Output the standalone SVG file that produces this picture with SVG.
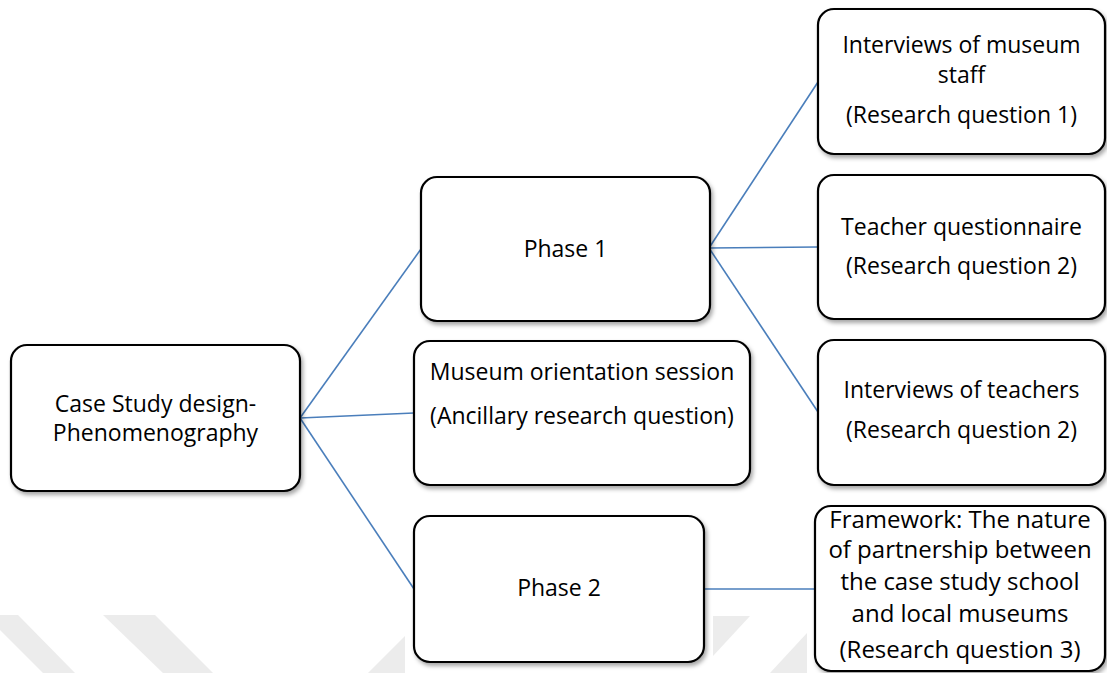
<svg xmlns="http://www.w3.org/2000/svg" width="1107" height="673" viewBox="0 0 1107 673">
  <defs>
    <filter id="sh" x="-10%" y="-10%" width="130%" height="130%">
      <feDropShadow dx="2" dy="3" stdDeviation="2" flood-color="#000" flood-opacity="0.35"/>
    </filter>
    <style>
      .box { fill: #fff; stroke: #000; stroke-width: 2.2; filter: url(#sh); }
      .lbl { font-family: "Open Sans", "Noto Sans", "Liberation Sans", sans-serif; font-size: 23px; fill: #000; text-anchor: middle; }
      .big { font-size: 24px; }
      .con { stroke: #4a7ebb; stroke-width: 1.6; fill: none; }
      .wm { fill: #ececec; }
    </style>
  </defs>
  <rect width="1107" height="673" fill="#fff"/>
  <g id="watermark">
    <polygon class="wm" points="0,615 18,615 75,673 43,673 0,630"/>
    <polygon class="wm" points="103,615 155,615 213,673 163,673"/>
    <polygon class="wm" points="368,673 405,636 405,673"/>
    <polygon class="wm" points="713,616 750,616 713,656"/>
    <polygon class="wm" points="770,673 807,633 807,673"/>
  </g>
  <g id="connectors">
    <line class="con" x1="300" y1="418" x2="421" y2="249"/>
    <line class="con" x1="300" y1="418" x2="414" y2="413"/>
    <line class="con" x1="300" y1="418" x2="414" y2="589"/>
    <line class="con" x1="709" y1="248" x2="818" y2="82"/>
    <line class="con" x1="709" y1="248" x2="818" y2="247"/>
    <line class="con" x1="709" y1="248" x2="818" y2="412"/>
    <line class="con" x1="704" y1="589" x2="815" y2="589"/>
  </g>
  <g id="case-study">
    <rect class="box" x="11" y="345" width="289" height="146" rx="16"/>
    <text class="lbl" x="155.5" y="412">Case Study design-</text>
    <text class="lbl" x="155.5" y="441">Phenomenography</text>
  </g>
  <g id="phase1">
    <rect class="box" x="421" y="177" width="289" height="144" rx="16"/>
    <text class="lbl" x="565.5" y="257">Phase 1</text>
  </g>
  <g id="orientation">
    <rect class="box" x="414" y="341" width="336" height="144" rx="16"/>
    <text class="lbl" x="582" y="380">Museum orientation session</text>
    <text class="lbl" x="582" y="424">(Ancillary research question)</text>
  </g>
  <g id="phase2">
    <rect class="box" x="414" y="516" width="290" height="146" rx="16"/>
    <text class="lbl" x="559" y="596">Phase 2</text>
  </g>
  <g id="interviews-staff">
    <rect class="box" x="818" y="9" width="287" height="145" rx="16"/>
    <text class="lbl" x="961.5" y="53">Interviews of museum</text>
    <text class="lbl" x="961.5" y="83">staff</text>
    <text class="lbl" x="961.5" y="123">(Research question 1)</text>
  </g>
  <g id="teacher-questionnaire">
    <rect class="box" x="818" y="175" width="287" height="144" rx="16"/>
    <text class="lbl" x="961.5" y="235">Teacher questionnaire</text>
    <text class="lbl" x="961.5" y="274">(Research question 2)</text>
  </g>
  <g id="interviews-teachers">
    <rect class="box" x="818" y="340" width="287" height="145" rx="16"/>
    <text class="lbl" x="961.5" y="398">Interviews of teachers</text>
    <text class="lbl" x="961.5" y="438">(Research question 2)</text>
  </g>
  <g id="framework">
    <rect class="box" x="815" y="506" width="290" height="165" rx="16"/>
    <text class="lbl big" x="960" y="528">Framework: The nature</text>
    <text class="lbl big" x="960" y="558">of partnership between</text>
    <text class="lbl big" x="960" y="590">the case study school</text>
    <text class="lbl big" x="960" y="622">and local museums</text>
    <text class="lbl big" x="960" y="658">(Research question 3)</text>
  </g>
</svg>
